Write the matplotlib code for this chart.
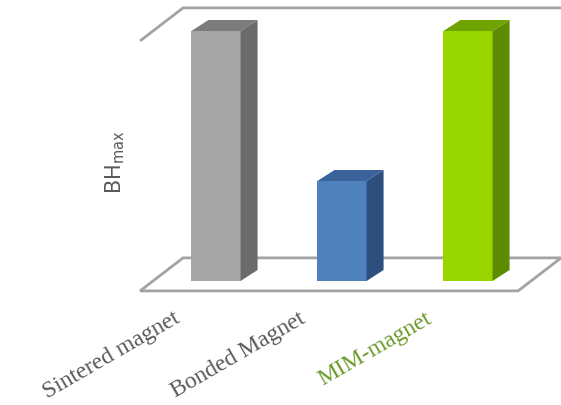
import numpy as np
import matplotlib.pyplot as plt
from matplotlib.patches import Polygon

categories = ["Sintered magnet", "Bonded Magnet", "MIM-magnet"]
bh_max = [100, 40, 100]

# face colours: front, right side, top
front_c = ["#a5a5a5", "#4f81bd", "#99d600"]
side_c = ["#6b6b6b", "#2e4f7e", "#5e8c00"]
top_c = ["#7b7b7b", "#3a629b", "#6ea300"]
label_c = ["#595959", "#595959", "#6a9a28"]

# oblique projection: depth vectors in (category, value) units
floor_dx, floor_dy = 0.341, 13.2
bar_dx, bar_dy = 0.135, 4.4
width = 0.39
wall_h = 100
edge = "#a3a3a3"

fig = plt.figure(figsize=(5.61, 4.06), dpi=100)
ax = fig.add_axes([0, 0, 1, 1])
ax.set_xlim(-1.714, 2.738)
ax.set_ylim(-49.6, 112.8)
ax.axis("off")

x = np.arange(len(categories))
x0, x1 = x[0] - 0.5, x[-1] + 0.5
d0, d1 = -0.3, 0.7   # floor depth range relative to bar front

# floor outline
fl = [(x0 + d0 * floor_dx, d0 * floor_dy), (x1 + d0 * floor_dx, d0 * floor_dy),
      (x1 + d1 * floor_dx, d1 * floor_dy), (x0 + d1 * floor_dx, d1 * floor_dy)]
ax.add_patch(Polygon(fl, closed=True, fill=False, ec=edge, lw=2, zorder=1))

# top edges of the side and back walls
ax.plot([x0 + d0 * floor_dx, x0 + d1 * floor_dx, x1 + d1 * floor_dx],
        [d0 * floor_dy + wall_h, d1 * floor_dy + wall_h, d1 * floor_dy + wall_h],
        color=edge, lw=2, zorder=1, solid_capstyle="butt")

# bars: front faces from ax.bar, side and top faces as polygons
ax.bar(x, bh_max, width, color=front_c, zorder=3)
for xi, v, sc, tc in zip(x, bh_max, side_c, top_c):
    r, l = xi + width / 2, xi - width / 2
    ax.add_patch(Polygon([(r, 0), (r + bar_dx, bar_dy), (r + bar_dx, v + bar_dy), (r, v)],
                         closed=True, fc=sc, ec="none", zorder=3))
    ax.add_patch(Polygon([(l, v), (r, v), (r + bar_dx, v + bar_dy), (l + bar_dx, v + bar_dy)],
                         closed=True, fc=tc, ec="none", zorder=3))

# category labels
for xi, name, c in zip(x, categories, label_c):
    ax.text(xi - 0.30, -14, name, rotation=30, rotation_mode="anchor",
            ha="right", va="center", color=c, fontsize=17,
            family="Liberation Serif")

ax.text(-0.80, 48, r"BH$_{\mathrm{max}}$", rotation=90, ha="center", va="center",
        color="#595959", fontsize=15)

fig.savefig("out.png", dpi=100)
